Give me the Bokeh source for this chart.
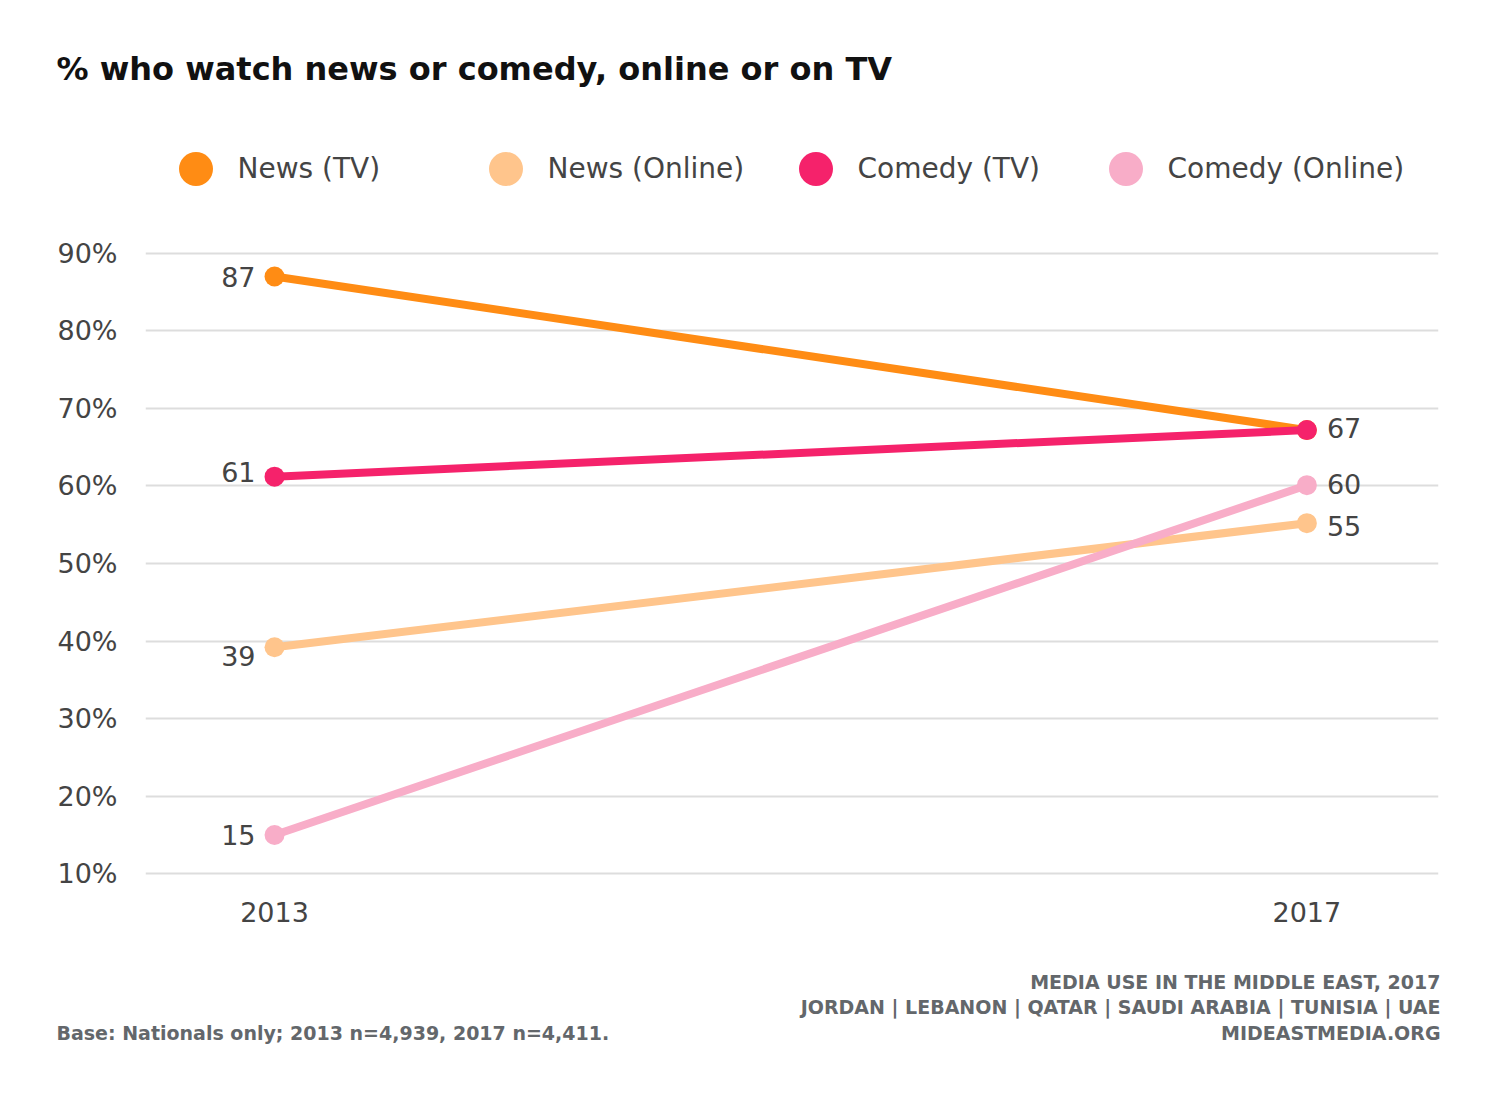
from bokeh.plotting import figure
from bokeh.layouts import column
from bokeh.models import Range1d, Legend, LegendItem, FixedTicker, ColumnDataSource
from bokeh.embed import file_html
from bokeh.resources import INLINE
from bokeh.core.properties import value

# ---------------- data ----------------
years = [2013, 2017]
series_names = ["News (TV)", "News (Online)", "Comedy (TV)", "Comedy (Online)"]
news_tv = [87.0, 67.2]
news_online = [39.2, 55.2]
comedy_tv = [61.2, 67.2]
comedy_online = [15.0, 60.1]

left_labels = ["87", "39", "61", "15"]          # 2013 values shown
left_values = [87.0, 39.2, 61.2, 15.0]
right_labels = ["67", "60", "55"]               # 2017 values shown
right_values = [67.2, 60.1, 55.2]

y_ticks = [10, 20, 30, 40, 50, 60, 70, 80, 90]
y_tick_labels = ["10%", "20%", "30%", "40%", "50%", "60%", "70%", "80%", "90%"]
x_tick_labels = ["2013", "2017"]

title_text = "% who watch news or comedy, online or on TV"
source_lines = ["MEDIA USE IN THE MIDDLE EAST, 2017",
                "JORDAN | LEBANON | QATAR | SAUDI ARABIA | TUNISIA | UAE",
                "MIDEASTMEDIA.ORG"]
base_note = "Base: Nationals only; 2013 n=4,939, 2017 n=4,411."

# ---------------- styles ----------------
colors = ["#FF8C14", "#FFC58C", "#F5226B", "#F8ADC8"]
FONT = "DejaVu Sans"
TXT = "#444444"
NOTE = "#63676b"
W = 1490
left_dy = [0, 9, -5, 0]
right_dy = [-2, -1, 3]


def bare(h):
    f = figure(width=W, height=h, output_backend="svg", toolbar_location=None,
               x_range=Range1d(0, W), y_range=Range1d(h, 0),
               x_axis_type=None, y_axis_type=None, min_border=0,
               frame_align=False)
    f.outline_line_color = None
    f.grid.visible = False
    f.background_fill_color = "white"
    f.border_fill_color = "white"
    return f


# ---------------- header: title + legend ----------------
HH = 215
head = bare(HH)
head.text(x=[56], y=[68], text=[title_text], text_font=value(FONT),
          text_font_style="bold", text_font_size="32px", text_color="#111111",
          text_baseline="middle", text_align="left")
items = []
for i, name in enumerate(series_names):
    r = head.scatter([float("nan")], [float("nan")], size=34,
                     fill_color=colors[i], line_color=None)
    items.append(LegendItem(label=name, renderers=[r]))
legend = Legend(items=items, orientation="horizontal", location=(152.5, 4.5),
                glyph_width=85, glyph_height=85, label_standoff=0,
                label_width=220, spacing=5, padding=0, margin=0,
                label_text_font=FONT, label_text_font_size="28px",
                label_text_color=TXT, label_text_baseline="middle",
                background_fill_alpha=0, border_line_color=None,
                inactive_fill_alpha=0)
head.add_layout(legend, "center")

# ---------------- main chart ----------------
p = figure(width=W, height=736, output_backend="svg", toolbar_location=None,
           x_range=Range1d(2012.5, 2017.51), y_range=Range1d(9, 91),
           min_border_left=145, min_border_right=52, min_border_top=30,
           min_border_bottom=70, frame_align=False)
p.outline_line_color = None
p.background_fill_color = "white"
p.border_fill_color = "white"

p.yaxis.ticker = FixedTicker(ticks=y_ticks)
p.yaxis.major_label_overrides = {t: l for t, l in zip(y_ticks, y_tick_labels)}
p.xaxis.ticker = FixedTicker(ticks=years)
p.xaxis.major_label_overrides = {t: l for t, l in zip(years, x_tick_labels)}
for ax in (p.xaxis[0], p.yaxis[0]):
    ax.axis_line_color = None
    ax.major_tick_line_color = None
    ax.minor_tick_line_color = None
    ax.major_label_text_font = FONT
    ax.major_label_text_font_size = "27px"
    ax.major_label_text_color = TXT
p.yaxis.major_label_standoff = 22
p.xaxis.major_label_standoff = 14
p.xgrid.grid_line_color = None
p.ygrid.ticker = FixedTicker(ticks=y_ticks)
p.ygrid.grid_line_color = "#dddddd"
p.ygrid.grid_line_width = 2

series = [news_tv, news_online, comedy_tv, comedy_online]
draw_order = [1, 3, 0, 2]
for i in draw_order:
    p.line(years, series[i], line_color=colors[i], line_width=8)
    p.scatter(years, series[i], size=20, fill_color=colors[i], line_color=None)

lsrc = ColumnDataSource(dict(x=[years[0]] * len(left_values), y=left_values,
                             t=left_labels, dy=left_dy))
p.text(x="x", y="y", text="t", source=lsrc, x_offset=-19, y_offset="dy",
       text_align="right", text_baseline="middle", text_font=value(FONT),
       text_font_size="27px", text_color=TXT)
rsrc = ColumnDataSource(dict(x=[years[1]] * len(right_values), y=right_values,
                             t=right_labels, dy=right_dy))
p.text(x="x", y="y", text="t", source=rsrc, x_offset=20, y_offset="dy",
       text_align="left", text_baseline="middle", text_font=value(FONT),
       text_font_size="27px", text_color=TXT)

# ---------------- footer ----------------
foot = bare(110)
foot.text(x=[1440] * 3, y=[30, 55.5, 81], text=source_lines, text_font=value(FONT),
          text_font_style="bold", text_font_size="19px", text_color=NOTE,
          text_align="right", text_baseline="middle")
foot.text(x=[56], y=[81], text=[base_note], text_font=value(FONT),
          text_font_style="bold", text_font_size="19px", text_color=NOTE,
          text_align="left", text_baseline="middle")

layout = column(head, p, foot, spacing=0)
open("out.html", "w").write(file_html(layout, INLINE))
